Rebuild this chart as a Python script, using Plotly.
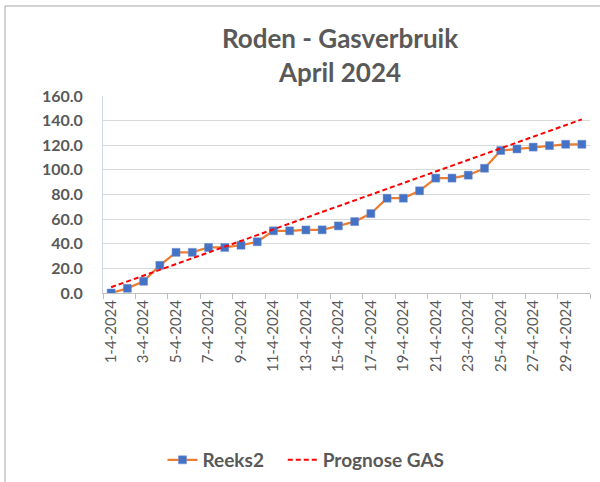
import plotly.graph_objects as go

# %% data
days = list(range(1, 31))
dates = [f"{d}-4-2024" for d in days]
reeks2 = [0.0, 3.8, 9.5, 22.5, 33.0, 33.0, 37.0, 37.0, 38.8, 41.6,
          50.5, 50.5, 51.2, 51.3, 54.5, 58.0, 64.5, 77.0, 77.0, 83.0,
          93.3, 93.3, 95.7, 101.3, 115.7, 117.0, 118.5, 119.7, 120.8, 120.8]
prognose = [4.7, 9.4, 14.1, 18.8, 23.5, 28.2, 32.9, 37.6, 42.3, 47.0,
            51.7, 56.4, 61.1, 65.8, 70.5, 75.2, 79.9, 84.6, 89.3, 94.0,
            98.7, 103.4, 108.1, 112.8, 117.5, 122.2, 126.9, 131.6, 136.3, 141.0]
y_ticks = [0, 20, 40, 60, 80, 100, 120, 140, 160]

grey = "#595959"
font = "Lato, Calibri, sans-serif"

fig = go.Figure()
fig.add_trace(go.Scatter(x=days, y=reeks2, mode="lines+markers",
                         name="Reeks2\u00a0\u00a0\u00a0",
                         line=dict(color="#ED7D31", width=2.25),
                         marker=dict(symbol="square", size=8, color="#4472C4",
                                     line=dict(color="#6f8fd0", width=0.5))))
fig.add_trace(go.Scatter(x=days, y=prognose, mode="lines", name="Prognose GAS",
                         line=dict(color="#FF0000", width=2, dash="5px,3px")))

# chart border (Excel chart area frame)
fig.add_shape(type="rect", xref="paper", yref="paper",
              x0=-0.2012, x1=1.0247, y0=-0.9695, y1=1.4569,
              line=dict(color="#a6a6a6", width=1))

fig.update_layout(
    width=600, height=482,
    margin=dict(l=103, r=10, t=96, b=189),
    paper_bgcolor="white", plot_bgcolor="white",
    font=dict(family=font, color=grey),
    title=dict(text="Roden - Gasverbruik<br>April 2024", x=340 / 600, xref="container",
               xanchor="center", y=1 - 48 / 482, yref="container", yanchor="middle",
               font=dict(size=26, color=grey, family=font, weight="bold")),
    showlegend=True,
    legend=dict(orientation="h", xref="container", x=306 / 600, xanchor="center",
                yref="container", y=1 - 460 / 482, yanchor="middle",
                font=dict(size=19, color=grey, weight="bold"),
                itemwidth=30),
    xaxis=dict(range=[0.5, 30.5], tickvals=days[::2], ticktext=dates[::2],
               tickangle=-90, tickfont=dict(size=15, color=grey),
               ticks="", showgrid=False, showline=True, linecolor="#bfbfbf",
               linewidth=1, zeroline=False,
               minor=dict(tickvals=[d + 0.5 for d in range(0, 31, 2)], ticks="outside",
                          ticklen=5, tickcolor="#bfbfbf", showgrid=False)),
    yaxis=dict(range=[0, 160], tickvals=y_ticks, tickformat=".1f",
               tickfont=dict(size=16, color=grey, weight="bold"),
               showgrid=True, gridcolor="#d9d9d9", gridwidth=1,
               showline=True, linecolor="#d0d8e8", zeroline=False,
               ticks="", ticklabelstandoff=16),
)

# page has a default body margin; remove it so the figure sits at the top-left
fig.write_html("out.html", config={"displayModeBar": False},
               post_script="document.body.style.margin='0px';")
